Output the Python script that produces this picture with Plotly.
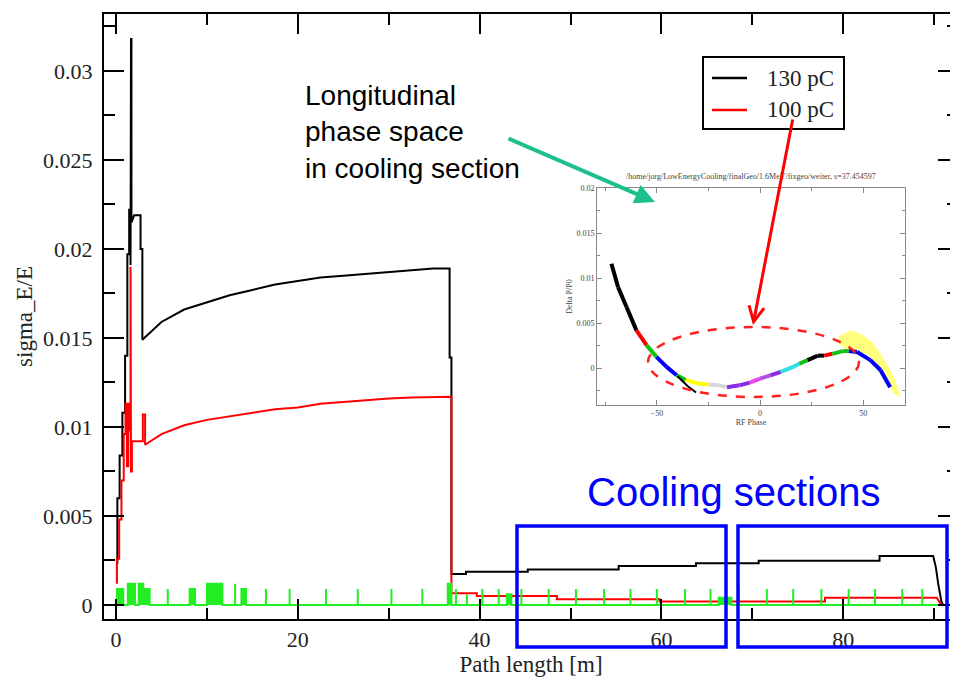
import plotly.graph_objects as go

# ---------------- main chart data ----------------
# 130 pC curve: path length [m] and sigma_E/E
black_x = [0.15, 0.15, 0.4, 0.4, 0.7, 0.7, 1.0, 1.0, 1.25, 1.25, 1.45, 1.45, 1.6, 1.6,
           1.65, 1.65, 1.7, 1.7, 2.0, 2.7, 2.7, 2.9, 2.9,
           3.5, 5.0, 7.5, 10.0, 12.5, 15.0, 17.5, 20.0, 22.5, 25.0, 27.5, 30.0, 32.5, 34.9, 36.7,
           36.7, 36.9, 36.9, 38.5, 38.5, 45.3, 45.3, 55.3, 55.3, 63.8, 63.8, 70.7, 70.7,
           84.0, 84.0, 89.9, 90.2, 90.45, 90.8, 91.0, 93.0]
black_y = [0.0023, 0.0060, 0.0060, 0.0084, 0.0084, 0.0108, 0.0108, 0.0140, 0.0140, 0.0197, 0.0197, 0.0222, 0.0222, 0.0191,
           0.0191, 0.0318, 0.0318, 0.0215, 0.0219, 0.0219, 0.0200, 0.0200, 0.0149,
           0.0152, 0.0159, 0.0166, 0.0170, 0.0174, 0.0177, 0.0180, 0.0182, 0.0184, 0.0185, 0.0186, 0.0187, 0.0188, 0.0189, 0.0189,
           0.0139, 0.0139, 0.00174, 0.00174, 0.00187, 0.00187, 0.0020, 0.0020, 0.00219, 0.00219, 0.00234, 0.00234, 0.00248,
           0.00248, 0.00275, 0.00275, 0.0021, 0.0012, 0.0002, 0.0, 0.0]

# 100 pC curve
red_x = [0.1, 0.1, 0.35, 0.35, 0.6, 0.6, 0.85, 0.85, 1.05, 1.05, 1.2, 1.2, 1.35, 1.35, 1.45, 1.45,
         1.6, 1.6, 1.65, 1.65, 1.75, 1.75, 2.95, 2.95, 3.2, 3.2,
         5.0, 7.5, 10.0, 12.5, 15.0, 17.5, 20.0, 22.5, 25.0, 27.5, 30.0, 32.5, 36.9,
         36.9, 39.7, 39.7, 48.5, 48.5, 59.8, 59.8, 78.0, 78.0, 90.3, 90.8, 93.0]
red_y = [0.0012, 0.0026, 0.0026, 0.0048, 0.0048, 0.0070, 0.0070, 0.0096, 0.0096, 0.0113, 0.0113, 0.0078, 0.0078, 0.0113, 0.0113, 0.0098,
         0.0098, 0.0190, 0.0190, 0.0075, 0.0075, 0.0092, 0.0092, 0.0107, 0.0107, 0.0090,
         0.0096, 0.0101, 0.0104, 0.0106, 0.0108, 0.0110, 0.0111, 0.0113, 0.0114, 0.0115, 0.0116, 0.01165, 0.0117,
         0.00066, 0.00066, 0.0005, 0.0005, 0.00032, 0.00032, 0.0002, 0.0002, 0.0004, 0.0004, 0.0, 0.0]

# green element markers: start [m], end [m], height
green_start = [0.1, 1.3, 2.5, 3.0, 5.7, 8.1, 10.0, 13.1, 13.8, 16.5, 19.1, 23.1, 26.6, 30.3, 33.7,
               36.5, 37.4, 38.6, 40.3, 42.1, 43.0, 44.6, 47.6, 50.6, 53.7, 56.6, 59.5, 62.6, 65.4,
               66.3, 68.5, 71.6, 74.5, 77.6, 80.6, 83.5, 86.5, 88.7]
green_end = [0.8, 2.1, 3.0, 3.7, 5.7, 8.7, 11.7, 13.1, 14.3, 16.5, 19.1, 23.1, 26.6, 30.3, 33.7,
             36.9, 37.4, 38.6, 40.3, 42.1, 43.5, 44.6, 47.6, 50.6, 53.7, 56.6, 59.5, 62.6, 65.4,
             67.7, 68.5, 71.6, 74.5, 77.6, 80.6, 83.5, 86.5, 88.7]
green_height = [0.0009, 0.0012, 0.0012, 0.0009, 0.0009, 0.0009, 0.0012, 0.0012, 0.0009, 0.0009, 0.0009, 0.0009, 0.0009, 0.0009, 0.0009,
                0.0012, 0.0009, 0.0006, 0.0009, 0.0009, 0.0006, 0.0009, 0.0009, 0.0009, 0.0009, 0.0009, 0.0009, 0.0009, 0.0009,
                0.0004, 0.0009, 0.0009, 0.0009, 0.0009, 0.0009, 0.0009, 0.0009, 0.0009]
green_line_start = 0.08
green_line_end = 90.8

x_tickvals = [0, 20, 40, 60, 80]
x_ticktext = ["0", "20", "40", "60", "80"]
x_minorvals = [10, 30, 50, 70, 90]
y_tickvals = [0, 0.005, 0.01, 0.015, 0.02, 0.025, 0.03]
y_ticktext = ["0", "0.005", "0.01", "0.015", "0.02", "0.025", "0.03"]
y_minorvals = [0.0025, 0.0075, 0.0125, 0.0175, 0.0225, 0.0275, 0.0325]

legend_labels = ["130 pC", "100 pC"]
legend_colors = ["black", "#ff0000"]

# ---------------- inset (longitudinal phase space) ----------------
inset_phase = [-72, -68.8, -64.7, -59.9, -55, -50.2, -45.3, -40.4, -36, -30, -25, -20, -16, -10, -5, 0,
               5, 10, 16, 19, 23, 28, 31, 35, 40, 43, 47, 53.4, 58.3, 63]
inset_dp = [0.0116, 0.0090, 0.0068, 0.0042, 0.00256, 0.00126, 0.00015, -0.00078, -0.0013, -0.0017, -0.0018, -0.0019,
            -0.0021, -0.0019, -0.0016, -0.00115, -0.0008, -0.0004, 0.00015, 0.0005, 0.0009, 0.0014, 0.0014, 0.0016,
            0.0019, 0.0019, 0.0018, 0.0009, -0.0002, -0.0021]
inset_seg_color = ["black", "black", "black", "red", "#10c010", "blue", "blue", "#10c010", "yellow", "yellow",
                   "#d8d8d8", "#d8d8d8", "#8a2be2", "#8a2be2", "#ee44ee", "#b050e0", "#8a2be2", "#30e0e0", "#30e0e0",
                   "#10c010", "black", "black", "red", "#10c010", "#10c010", "blue", "blue", "blue", "blue"]
branch_phase = [-40, -35, -31]
branch_dp = [-0.0009, -0.0020, -0.0027]
cloud_phase = [38.0, 43.7, 48.5, 54.2, 58.3, 62.3, 65.5, 68.0, 64.7, 61.5, 57.4, 52.6, 46.9, 41.3, 38.0]
cloud_dp = [0.00348, 0.00422, 0.00385, 0.00293, 0.00163, 0.00015, -0.00133, -0.00319, -0.00281, -0.00152,
            0.00015, 0.00144, 0.0020, 0.00219, 0.00274]
inset_xticks = [-50, 0, 50]
inset_xminor = [-75, -25, 25]
inset_yticks = [0, 0.005, 0.01, 0.015, 0.02]
inset_yticktext = ["0", "0.005", "0.01", "0.015", "0.02"]
inset_yminor = [-0.0025, 0.0025, 0.0075, 0.0125, 0.0175]

# ---------------- figure geometry ----------------
OFF = 8                      # page body margin of the browser
W, H = 958 - OFF, 680 - OFF  # figure size so that it ends at the window edge
PL, PR, PT, PB = 104, 958, 14, 619   # plot frame in window pixels
ML, MT = PL - OFF, PT - OFF
MR, MB = (958 - OFF) - (PR - OFF), H - (PB - OFF)
PW, PH = PR - PL, PB - PT


def px(X):
    """window pixel x -> paper fraction"""
    return (X - PL) / PW


def py(Y):
    """window pixel y -> paper fraction"""
    return (PB - Y) / PH


fig = go.Figure()

fig.add_trace(go.Scatter(x=black_x, y=black_y, mode="lines", name=legend_labels[0], showlegend=False,
                         line=dict(color=legend_colors[0], width=2)))
fig.add_trace(go.Scatter(x=red_x, y=red_y, mode="lines", name=legend_labels[1], showlegend=False,
                         line=dict(color=legend_colors[1], width=2)))

gx, gy = [green_line_start], [0.0]
for s, e, h in zip(green_start, green_end, green_height):
    gx += [s, s, e, e]
    gy += [0.0, h, h, 0.0]
gx.append(green_line_end)
gy.append(0.0)
fig.add_trace(go.Scatter(x=gx, y=gy, mode="lines", name="elements", showlegend=False,
                         fill="tozeroy", fillcolor="#22ee22",
                         line=dict(color="#22ee22", width=2)))

# inset traces
fig.add_trace(go.Scatter(x=cloud_phase, y=cloud_dp, xaxis="x2", yaxis="y2", mode="lines",
                         fill="toself", fillcolor="rgba(255,255,80,0.75)", line=dict(width=0),
                         showlegend=False, hoverinfo="skip"))
for i in range(len(inset_seg_color)):
    fig.add_trace(go.Scatter(x=inset_phase[i:i + 2], y=inset_dp[i:i + 2], xaxis="x2", yaxis="y2",
                             mode="lines", line=dict(color=inset_seg_color[i], width=4),
                             showlegend=False))
fig.add_trace(go.Scatter(x=branch_phase, y=branch_dp, xaxis="x2", yaxis="y2", mode="lines",
                         line=dict(color="black", width=2), showlegend=False))

axis_common = dict(showline=True, linecolor="black", linewidth=2, mirror="ticks",
                   ticks="inside", ticklen=20, tickwidth=2, tickcolor="black",
                   showgrid=False, zeroline=False, automargin=False,
                   tickfont=dict(family="Liberation Serif", size=22, color="#222"))

fig.update_layout(
    width=W, height=H,
    margin=dict(l=ML, r=MR, t=MT, b=MB, autoexpand=False),
    paper_bgcolor="white", plot_bgcolor="white",
    font=dict(family="Liberation Serif", color="#222"),
    showlegend=False,
    xaxis=dict(axis_common, range=[-1.32, 92.63], domain=[0, 1],
               tickvals=x_tickvals, ticktext=x_ticktext,
               minor=dict(tickvals=x_minorvals, ticks="inside", ticklen=11, tickwidth=2,
                          tickcolor="black", showgrid=False),
               title=dict(text="Path length [m]", font=dict(family="Liberation Serif", size=23, color="#222"),
                          standoff=0)),
    yaxis=dict(axis_common, range=[-0.000787, 0.0332], domain=[0, 1],
               tickvals=y_tickvals, ticktext=y_ticktext, ticklabelstandoff=5,
               minor=dict(tickvals=y_minorvals, ticks="inside", ticklen=11, tickwidth=2,
                          tickcolor="black", showgrid=False),
               title=dict(text="sigma_E/E", font=dict(family="Liberation Serif", size=23, color="#222"),
                          standoff=4)),
    xaxis2=dict(domain=[px(597), px(905)], anchor="y2", range=[-79.0, 70.2], automargin=False,
                showline=True, linecolor="#888", linewidth=1, mirror="ticks",
                ticks="inside", ticklen=5, tickcolor="#888", showgrid=False, zeroline=False,
                tickvals=inset_xticks,
                minor=dict(tickvals=inset_xminor, ticks="inside", ticklen=3, tickcolor="#888", showgrid=False),
                tickfont=dict(size=8, color="#444"),
                title=dict(text="RF Phase", font=dict(size=8, color="#444"), standoff=1)),
    yaxis2=dict(domain=[py(405), py(188)], anchor="x2", range=[-0.00408, 0.02], automargin=False,
                showline=True, linecolor="#888", linewidth=1, mirror="ticks",
                ticks="inside", ticklen=5, tickcolor="#888", showgrid=False, zeroline=False,
                tickvals=inset_yticks, ticktext=inset_yticktext,
                minor=dict(tickvals=inset_yminor, ticks="inside", ticklen=3, tickcolor="#888", showgrid=False),
                tickfont=dict(size=8, color="#444"),
                title=dict(text="Delta P/P0", font=dict(size=8, color="#444"), standoff=2)),
)

shapes = [
    # cooling section boxes
    dict(type="rect", xref="paper", yref="paper", x0=px(517), x1=px(726), y0=py(647), y1=py(526),
         line=dict(color="#0000ff", width=3.5)),
    dict(type="rect", xref="paper", yref="paper", x0=px(738), x1=px(947), y0=py(647), y1=py(526),
         line=dict(color="#0000ff", width=3.5)),
    # dashed ellipse in the inset
    dict(type="circle", xref="paper", yref="paper", x0=px(648), x1=px(859), y0=py(397), y1=py(327),
         line=dict(color="#ff2020", width=2.5, dash="dash")),
    # legend box
    dict(type="rect", xref="paper", yref="paper", x0=px(703), x1=px(844), y0=py(129), y1=py(57),
         line=dict(color="black", width=2), fillcolor="white", layer="above"),
]
legend_rows = [78, 110]
for lab, col, ry in zip(legend_labels, legend_colors, legend_rows):
    shapes.append(dict(type="line", xref="paper", yref="paper", x0=px(712), x1=px(747),
                       y0=py(ry), y1=py(ry), line=dict(color=col, width=2.5)))
fig.update_layout(shapes=shapes)

annotations = [
    dict(text="Longitudinal<br>phase space<br>in cooling section", xref="paper", yref="paper",
         x=px(303), y=py(132), xanchor="left", yanchor="middle", align="left", showarrow=False,
         font=dict(family="Liberation Sans", size=28, color="black")),
    dict(text="Cooling sections", xref="paper", yref="paper", x=px(734), y=py(492),
         xanchor="center", yanchor="middle", showarrow=False,
         font=dict(family="Liberation Sans", size=40, color="#0000ff")),
    dict(text="/home/jorg/LowEnergyCooling/finalGeo/1.6MeV/fixgeo/weiter, s=37.454597",
         xref="paper", yref="paper", x=px(751), y=py(177), xanchor="center", yanchor="middle",
         showarrow=False, font=dict(family="Liberation Serif", size=8, color="#444")),
    dict(text="", xref="paper", yref="paper", x=px(655), y=py(202), ax=-148, ay=-64,
         showarrow=True, arrowhead=2, arrowsize=1, arrowwidth=4, arrowcolor="#1dbf8f"),
    dict(text="", xref="paper", yref="paper", x=px(753), y=py(325), ax=40, ay=-207,
         showarrow=True, arrowhead=5, arrowsize=1, arrowwidth=3, arrowcolor="#ff0000"),
]
for lab, ry in zip(legend_labels, legend_rows):
    annotations.append(dict(text=lab, xref="paper", yref="paper", x=px(765), y=py(ry),
                            xanchor="left", yanchor="middle", showarrow=False,
                            font=dict(family="Liberation Serif", size=23, color="#222")))
fig.update_layout(annotations=annotations)

fig.write_html("out.html")
